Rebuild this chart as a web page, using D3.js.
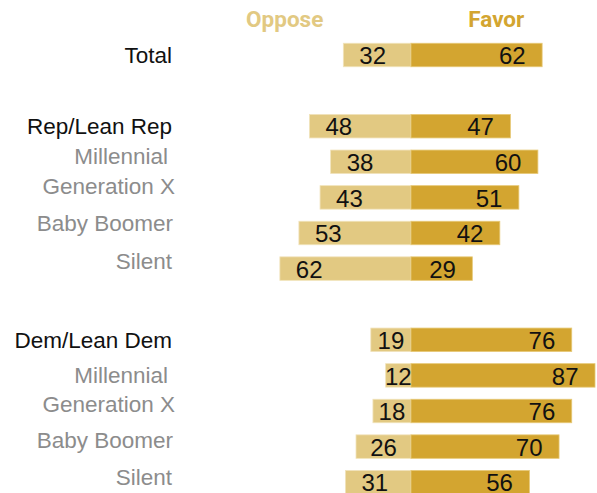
<!DOCTYPE html>
<html>
<head>
<meta charset="utf-8">
<script src="https://cdn.jsdelivr.net/npm/d3@7"></script>
<style>
  html, body { margin: 0; padding: 0; background: #fff; }
  svg { display: block; }
</style>
</head>
<body>
<svg id="chart" width="597" height="493"></svg>
<script>
// Row labels, grouped with blank slots between the groups
const categories = [
  "Total", null,
  "Rep/Lean Rep", "Millennial", "Generation X", "Baby Boomer", "Silent", null,
  "Dem/Lean Dem", "Millennial", "Generation X", "Baby Boomer", "Silent"
];
// Group headings drawn in black, generations in grey
const isHeading = [true, null, true, false, false, false, false, null, true, false, false, false, false];
// Percent opposing / favoring
const oppose = [32, null, 48, 38, 43, 53, 62, null, 19, 12, 18, 26, 31];
const favor  = [62, null, 47, 60, 51, 42, 29, null, 76, 87, 76, 70, 56];
const seriesNames = ["Oppose", "Favor"];

const rows = categories.map((c, i) => ({
  slot: i, label: c, heading: isHeading[i], oppose: oppose[i], favor: favor[i]
})).filter(d => d.label !== null);

const svg = d3.select("#chart");
const colOppose = "#e2c982";
const colFavor = "#d3a530";

// Diverging horizontal scale centred on the zero line
const x = d3.scaleLinear().domain([-100, 100]).range([411 - 211.5, 411 + 211.5]);
// Slot index -> bar centre
const y = d3.scaleLinear().domain([0, 12]).range([55, 55 + 12 * 35.6]);
const barH = 23.5;

// Small nudges of the row labels
const labelShiftY = [8.3, 0, 7.3, 2.3, -3, -2.5, 0, 0, 8, 7.6, 0.8, 1.5, 3.2];
const labelShiftX = [0, 0, 0, -4, 3, 1, 0, 0, 0, -4, 3, 1, 0];

const g = svg.append("g");

// Oppose bars
g.selectAll("rect.oppose").data(rows).join("rect")
  .attr("class", "oppose")
  .attr("x", d => x(-d.oppose))
  .attr("y", d => y(d.slot) - barH / 2)
  .attr("width", d => x(0) - x(-d.oppose))
  .attr("height", barH)
  .attr("fill", colOppose)
  .attr("stroke", "#f1e3bb")
  .attr("stroke-width", 0.8);

// Favor bars
g.selectAll("rect.favor").data(rows).join("rect")
  .attr("class", "favor")
  .attr("x", x(0))
  .attr("y", d => y(d.slot) - barH / 2)
  .attr("width", d => x(d.favor) - x(0))
  .attr("height", barH)
  .attr("fill", colFavor)
  .attr("stroke", "#e6c978")
  .attr("stroke-width", 0.8);

const numFont = "'Liberation Sans', Arial, sans-serif";

// Oppose values: near the bar's outer end, centred when the bar is short
g.selectAll("text.ov").data(rows).join("text")
  .attr("class", "ov")
  .attr("font-family", numFont)
  .attr("font-size", 24)
  .attr("fill", "#111")
  .attr("text-anchor", "middle")
  .attr("y", d => y(d.slot) + 9.2)
  .text(d => d.oppose)
  .attr("x", function (d) {
    const tw = this.getComputedTextLength();
    const left = x(-d.oppose), right = x(0);
    return Math.min((left + right) / 2, left + 16 + tw / 2);
  });

// Favor values: right-aligned inside the bar
g.selectAll("text.fv").data(rows).join("text")
  .attr("class", "fv")
  .attr("font-family", numFont)
  .attr("font-size", 24)
  .attr("fill", "#111")
  .attr("text-anchor", "end")
  .attr("x", d => x(d.favor) - 16.5)
  .attr("y", d => y(d.slot) + 9.2)
  .text(d => d.favor);

// Row labels
g.selectAll("text.lab").data(rows).join("text")
  .attr("class", "lab")
  .attr("font-family", "'Liberation Sans', Arial, sans-serif")
  .attr("font-size", 22.5)
  .attr("fill", d => d.heading ? "#111" : "#8c8c8c")
  .attr("text-anchor", "end")
  .attr("x", d => 172 + labelShiftX[d.slot])
  .attr("y", d => y(d.slot) + labelShiftY[d.slot])
  .text(d => d.label);

// Column headers
svg.selectAll("text.head").data(seriesNames).join("text")
  .attr("class", "head")
  .attr("font-family", "Roboto, 'Liberation Sans', sans-serif")
  .attr("font-weight", "bold")
  .attr("font-size", 22.5)
  .attr("text-anchor", "middle")
  .attr("fill", (d, i) => i === 0 ? colOppose : colFavor)
  .attr("x", (d, i) => i === 0 ? 284.7 : 496.3)
  .attr("y", 26.7)
  .text(d => d);
</script>
</body>
</html>
